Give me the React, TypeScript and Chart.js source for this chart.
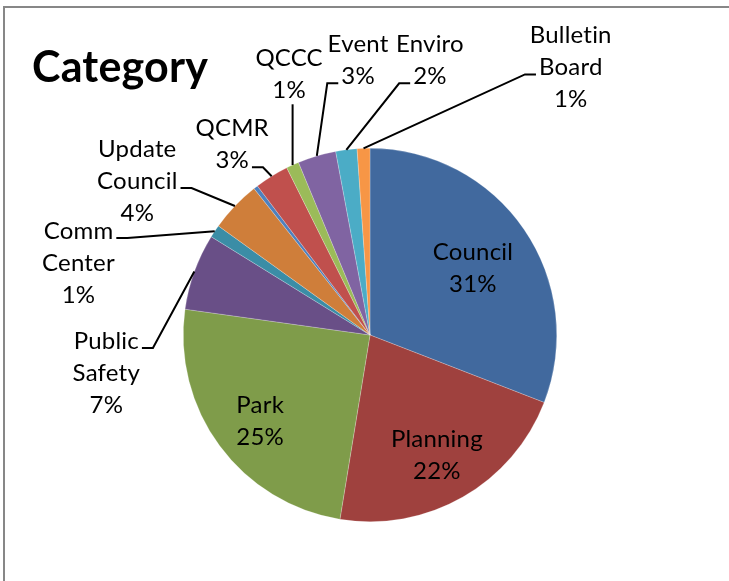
import React, { useEffect, useRef } from "react";
import { Chart, registerables } from "chart.js";

Chart.register(...registerables);

// ---- data ----
const TITLE = "Category";
const CATEGORIES = [
  "Council",
  "Planning",
  "Park",
  "Public Safety",
  "Comm Center",
  "Update Council",
  "(blank)",
  "QCMR",
  "QCCC",
  "Event",
  "Enviro",
  "Bulletin Board",
];
const COUNTS = [84, 59, 67, 18, 3, 12, 1, 8, 3, 9, 5, 3];
const COLORS = [
  "#41699E",
  "#9F413E",
  "#7F9C4A",
  "#694F87",
  "#3B8DA6",
  "#CF7E3A",
  "#4F81BD",
  "#C0504D",
  "#9BBB59",
  "#8064A2",
  "#4BACC6",
  "#F79646",
];

// ---- label layout (relative to pie centre, in units of radius) ----
type LabelLayout = { x: number; y: number; inside?: boolean; side?: "l" | "r" | "b"; line?: number } | null;
const LABEL_LAYOUT: LabelLayout[] = [
  { x: 0.551, y: -0.358, inside: true },
  { x: 0.358, y: 0.642, inside: true },
  { x: -0.588, y: 0.46, inside: true },
  { x: -1.412, y: 0.203, side: "r", line: 0 },
  { x: -1.561, y: -0.385, side: "r", line: 0 },
  { x: -1.246, y: -0.824, side: "r", line: 1 },
  null,
  { x: -0.738, y: -1.021, side: "r", line: 1 },
  { x: -0.433, y: -1.396, side: "b" },
  { x: -0.064, y: -1.471, side: "l", line: 1 },
  { x: 0.321, y: -1.471, side: "l", line: 1 },
  { x: 1.075, y: -1.433, side: "l", line: 1 },
];

const LABEL_FONT = "24px Lato, 'Open Sans', sans-serif";
const TITLE_FONT = "bold 43px Lato, 'Open Sans', sans-serif";
const LINE_H = 32;

const overlayPlugin = {
  id: "excelOverlay",
  beforeDraw(chart: any) {
    const ctx = chart.ctx;
    ctx.save();
    ctx.strokeStyle = "#878787";
    ctx.lineWidth = 2;
    ctx.strokeRect(4, 7, 1000, 1000);
    ctx.restore();
  },
  afterDraw(chart: any) {
    const ctx = chart.ctx;
    ctx.save();
    try {
      ctx.letterSpacing = "0.2px";
    } catch (e) {}
    // title
    ctx.fillStyle = "#000";
    ctx.font = TITLE_FONT;
    ctx.textAlign = "left";
    ctx.textBaseline = "alphabetic";
    ctx.fillText(TITLE, 32, 82);

    const data = chart.data.datasets[0].data as number[];
    const total = data.reduce((a, b) => a + b, 0);
    const meta = chart.getDatasetMeta(0);
    ctx.font = LABEL_FONT;
    ctx.textAlign = "center";
    ctx.textBaseline = "middle";
    meta.data.forEach((arc: any, i: number) => {
      const L = LABEL_LAYOUT[i];
      if (!L) return;
      const p = arc.getProps(["x", "y", "startAngle", "endAngle", "outerRadius"], true);
      const R = p.outerRadius;
      const mid = (p.startAngle + p.endAngle) / 2;
      const ex = p.x + Math.cos(mid) * R;
      const ey = p.y + Math.sin(mid) * R;
      const pct = Math.round((data[i] / total) * 100) + "%";
      const lines = [...String(chart.data.labels[i]).split(" "), pct];
      const cx = p.x + L.x * R;
      const cy = p.y + L.y * R;
      const firstY = cy - ((lines.length - 1) * LINE_H) / 2;
      ctx.fillStyle = "#000";
      lines.forEach((t, k) => ctx.fillText(t, cx, firstY + k * LINE_H));
      if (L.inside) return;
      ctx.strokeStyle = "#000";
      ctx.lineWidth = 2;
      ctx.beginPath();
      if (L.side === "b") {
        const bottom = firstY + (lines.length - 1) * LINE_H + 14;
        ctx.moveTo(ex, bottom);
        ctx.lineTo(ex, ey);
      } else {
        const li = L.line ?? 0;
        const w = ctx.measureText(lines[li]).width;
        const ay = firstY + li * LINE_H + 7;
        if (L.side === "r") {
          const ax = cx + w / 2 + 3;
          ctx.moveTo(ax, ay);
          ctx.lineTo(ax + 11, ay);
        } else {
          const ax = cx - w / 2 - 3;
          ctx.moveTo(ax, ay);
          ctx.lineTo(ax - 11, ay);
        }
        ctx.lineTo(ex, ey);
      }
      ctx.stroke();
    });
    ctx.restore();
  },
};

export default function App() {
  const ref = useRef<HTMLCanvasElement | null>(null);
  useEffect(() => {
    if (!ref.current) return;
    const chart = new Chart(ref.current, {
      type: "pie",
      data: {
        labels: CATEGORIES,
        datasets: [
          {
            data: COUNTS,
            backgroundColor: COLORS,
            borderColor: "rgba(255,255,255,0.45)",
            borderWidth: 0.5,
          },
        ],
      },
      options: {
        responsive: false,
        animation: false,
        layout: { padding: { left: 183, right: 172, top: 148, bottom: 59 } },
        plugins: {
          legend: { display: false },
          tooltip: { enabled: false },
          title: { display: false },
        },
      },
      plugins: [overlayPlugin],
    });
    const fonts: any = (document as any).fonts;
    if (fonts && fonts.load) {
      Promise.all([fonts.load(LABEL_FONT), fonts.load(TITLE_FONT)]).then(() => chart.draw()).catch(() => {});
    }
    return () => chart.destroy();
  }, []);
  return (
    <div style={{ position: "fixed", left: 0, top: 0, width: 729, height: 581, background: "#fff" }}>
      <canvas ref={ref} width={729} height={581} style={{ display: "block" }} />
    </div>
  );
}
